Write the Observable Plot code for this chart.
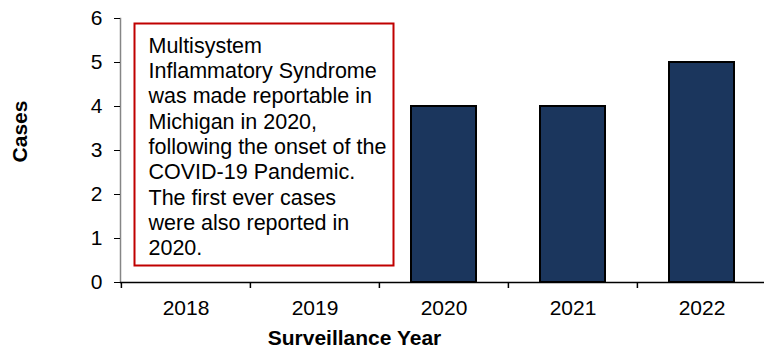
<!DOCTYPE html>
<html>
<head>
<meta charset="utf-8">
<script src="https://cdn.jsdelivr.net/npm/d3@7"></script>
<script src="https://cdn.jsdelivr.net/npm/@observablehq/plot@0.6"></script>
<style>
  html, body { margin: 0; padding: 0; background: #fff; }
  #chart svg { display: block; }
</style>
</head>
<body>
<div id="chart"></div>
<script>
const years = ["2018", "2019", "2020", "2021", "2022"];
const cases = [0, 0, 4, 4, 5];
const yTicks = [0, 1, 2, 3, 4, 5, 6];
const noteLines = [
  "Multisystem",
  "Inflammatory Syndrome",
  "was made reportable in",
  "Michigan in 2020,",
  "following the onset of the",
  "COVID-19 Pandemic.",
  "The first ever cases",
  "were also reported in",
  "2020."
];
const yTitle = "Cases";
const xTitle = "Surveillance Year";

const data = years.map((year, i) => ({year, cases: cases[i]}));
const font = "'Liberation Sans', Arial, sans-serif";

const chart = Plot.plot({
  width: 764,
  height: 356,
  marginLeft: 120,
  marginRight: -2,
  marginTop: 18,
  marginBottom: 74,
  style: {fontFamily: font, fontSize: "21px", color: "#000", background: "#fff"},
  x: {domain: years, paddingInner: 0.5, paddingOuter: 0.25, axis: null},
  y: {domain: [0, 6], axis: null},
  marks: [
    Plot.frame({anchor: "left", stroke: "#868686", strokeWidth: 1.5}),
    Plot.axisY({ticks: yTicks, tickFormat: d3.format("d"), tickSize: 6, tickPadding: 12, fontSize: 21, label: null, stroke: "#000"}),
    Plot.barY(data.filter(d => d.cases > 0), {x: "year", y: "cases", fill: "#1b365d", stroke: "#000", strokeWidth: 2}),
    Plot.ruleY([0], {stroke: "#000", strokeWidth: 1.5}),
    Plot.ruleX(years, {x: d => d, dx: -64.6, y1: 0, y2: 0, insetBottom: -6, stroke: "#000", strokeWidth: 1.5}),
    Plot.axisX({tickSize: 0, tickPadding: 18, fontSize: 21, label: null}),
    Plot.frame({stroke: "#c00000", strokeWidth: 2, fill: "#fff", insetLeft: 14, insetTop: 5, insetRight: 373, insetBottom: 17}),
    Plot.text([noteLines.join("\n")], {frameAnchor: "top-left", textAnchor: "start", lineAnchor: "top", dx: 28, dy: 16, lineHeight: 1.18, fontSize: 21.5, fill: "#000"}),
    Plot.text([yTitle], {frameAnchor: "left", textAnchor: "middle", lineAnchor: "middle", rotate: -90, dx: -100, dy: -19, fontSize: 21, fontWeight: "bold", fill: "#000"}),
    Plot.text([xTitle], {frameAnchor: "bottom", textAnchor: "middle", lineAnchor: "middle", dx: -89, dy: 56, fontSize: 21, fontWeight: "bold", fill: "#000"})
  ]
});
document.getElementById("chart").appendChild(chart);
</script>
</body>
</html>
